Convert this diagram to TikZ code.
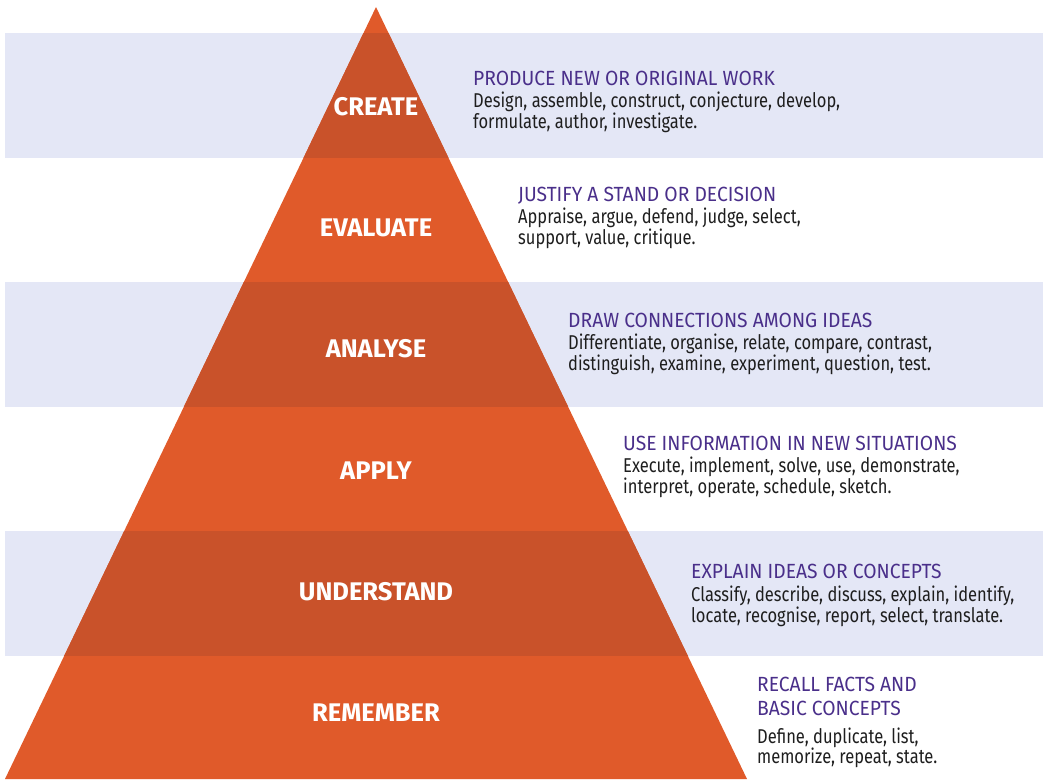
\documentclass[tikz,border=0pt]{standalone}
\usepackage{fontspec}
\setmainfont{Fira Sans}
\newfontfamily\hdfont[FakeStretch=0.94]{Fira Sans}
\newfontfamily\bdfont[FakeStretch=0.825]{Fira Sans}
\newfontfamily\lbfont{Fira Sans}
\definecolor{orL}{HTML}{E05A2A}
\definecolor{orD}{HTML}{C9522A}
\definecolor{band}{HTML}{E4E7F6}
\definecolor{purp}{HTML}{4A2F8A}
\definecolor{body}{HTML}{1E1E1E}
\tikzset{
  lbl/.style={anchor=base, inner sep=0pt, text=white, font=\lbfont\bfseries\fontsize{25.5}{27}\selectfont},
  hd/.style={anchor=base west, inner sep=0pt, text=purp, font=\hdfont\fontsize{20.5}{22}\selectfont},
  bd/.style={anchor=base west, inner sep=0pt, text=body, font=\bdfont\fontsize{20}{22}\selectfont},
}
\begin{document}
\begin{tikzpicture}[x=1pt,y=-1pt]
\useasboundingbox (0,0) rectangle (1043,779);
% bands
\foreach \t/\b in {33/157.5, 282/406.5, 531/655.5}{
  \fill[band] (5,\t) rectangle (1043,\b);
}
% pyramid
\coordinate (apex) at (376,7);
\coordinate (bl) at (5,779);
\coordinate (br) at (747,779);
\fill[orL] (apex) -- (br) -- (bl) -- cycle;
\begin{scope}
  \clip (apex) -- (br) -- (bl) -- cycle;
  \foreach \t/\b in {33/157.5, 282/406.5, 531/655.5}{
    \fill[orD] (0,\t) rectangle (1043,\b);
  }
\end{scope}
% labels
\node[lbl] (create) at (376,115.5) {CREATE};
\node[lbl] (evaluate) at (376,236.5) {EVALUATE};
\node[lbl] (analyse) at (376,357.5) {ANALYSE};
\node[lbl] (apply) at (376,479.5) {APPLY};
\node[lbl] (understand) at (376,600.5) {UNDERSTAND};
\node[lbl] (remember) at (376,721.5) {REMEMBER};
% create
\node[hd] (h1) at (473,85) {PRODUCE NEW OR ORIGINAL WORK};
\node[bd] (b1a) at (473,107) {Design, assemble, construct, conjecture, develop,};
\node[bd] (b1b) at (473,128) {formulate, author, investigate.};
% evaluate
\node[hd] (h2) at (518,201) {JUSTIFY A STAND OR DECISION};
\node[bd] (b2a) at (518,223) {Appraise, argue, defend, judge, select,};
\node[bd] (b2b) at (518,244) {support, value, critique.};
% analyse
\node[hd] (h3) at (568,327) {DRAW CONNECTIONS AMONG IDEAS};
\node[bd] (b3a) at (568,349) {Differentiate, organise, relate, compare, contrast,};
\node[bd] (b3b) at (568,370) {distinguish, examine, experiment, question, test.};
% apply
\node[hd] (h4) at (623,450) {USE INFORMATION IN NEW SITUATIONS};
\node[bd] (b4a) at (623,472) {Execute, implement, solve, use, demonstrate,};
\node[bd] (b4b) at (623,493) {interpret, operate, schedule, sketch.};
% understand
\node[hd] (h5) at (691,578) {EXPLAIN IDEAS OR CONCEPTS};
\node[bd] (b5a) at (691,601) {Classify, describe, discuss, explain, identify,};
\node[bd] (b5b) at (691,622) {locate, recognise, report, select, translate.};
% remember
\node[hd] (h6a) at (757,691) {RECALL FACTS AND};
\node[hd] (h6b) at (757,715) {BASIC CONCEPTS};
\node[bd] (b6a) at (757,743) {Define, duplicate, list,};
\node[bd] (b6b) at (757,763) {memorize, repeat, state.};
\end{tikzpicture}
\end{document}
